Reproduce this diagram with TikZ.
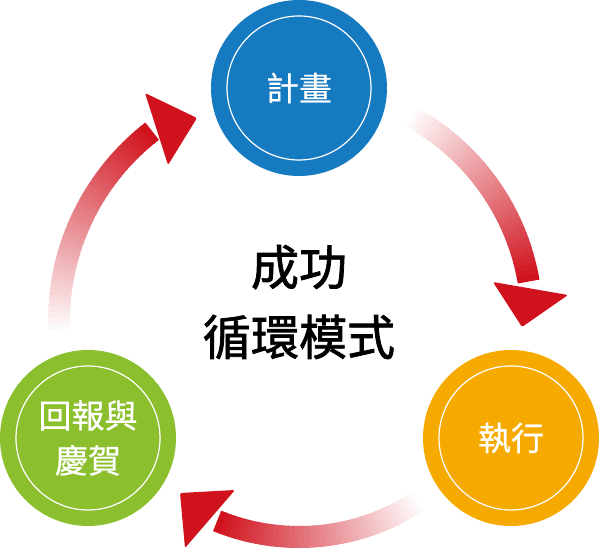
\documentclass[tikz,border=0pt]{standalone}
\usepackage{fontspec}
\setmainfont{Noto Sans CJK TC}[FakeBold=0.6]
\newfontfamily\titlefont{Noto Sans CJK TC}[FakeBold=1.6]
\usetikzlibrary{positioning}

\definecolor{planblue}{RGB}{22,122,192}
\definecolor{doorange}{RGB}{246,170,0}
\definecolor{rewardgreen}{RGB}{139,191,46}
\definecolor{arrowred}{RGB}{208,18,29}

\tikzset{
  stage/.style={circle, fill=#1, minimum size=176pt, inner sep=0pt,
    text=white, align=center, font=\fontsize{33}{45}\selectfont,
    path picture={\draw[white, line width=1.2pt]
      (path picture bounding box.center) circle (72pt);}},
  arrowhead/.style={fill=arrowred, rounded corners=2pt}
}

\begin{document}
\begin{tikzpicture}[x=1pt, y=1pt]
  % page as large as the reference
  \useasboundingbox (0,0) rectangle (600,556);
  \coordinate (hub) at (299,235);

  % fading shafts, piece by piece round the hub
  \foreach \r/\a/\b in {240/182/128, 233/61/10, 216/-57/-112}{
    \foreach \i in {0,...,39}{
      \pgfmathsetmacro\from{\a+(\b-\a)*\i/40}
      \pgfmathsetmacro\upto{\a+(\b-\a)*(\i+1.2)/40}
      \pgfmathsetmacro\pct{100*(\i+1)/40}
      \draw[arrowred!\pct!white, line width=22pt]
        ([shift={(\from:\r)}]hub) arc[start angle=\from, end angle=\upto, radius=\r];
    }
  }

  % the three heads
  \fill[arrowhead] (197,438) -- (145,463) -- (168,391) -- cycle;
  \fill[arrowhead] (522,229) -- (568,261) -- (493,274) -- cycle;
  \fill[arrowhead] (180,63) -- (185,8) -- (235,66) -- cycle;

  % the three stages
  \node[stage=planblue] (plan) at (299,468) {計畫};
  \node[stage=doorange] (do) at (511,118) {執行};
  \node[stage=rewardgreen] (reward) at (88,118) {回報與\\慶賀};

  % title in the middle
  \node[font=\titlefont\fontsize{48}{70}\selectfont, align=center] (title)
    at ([yshift=19]hub) {成功\\循環模式};
\end{tikzpicture}
\end{document}
